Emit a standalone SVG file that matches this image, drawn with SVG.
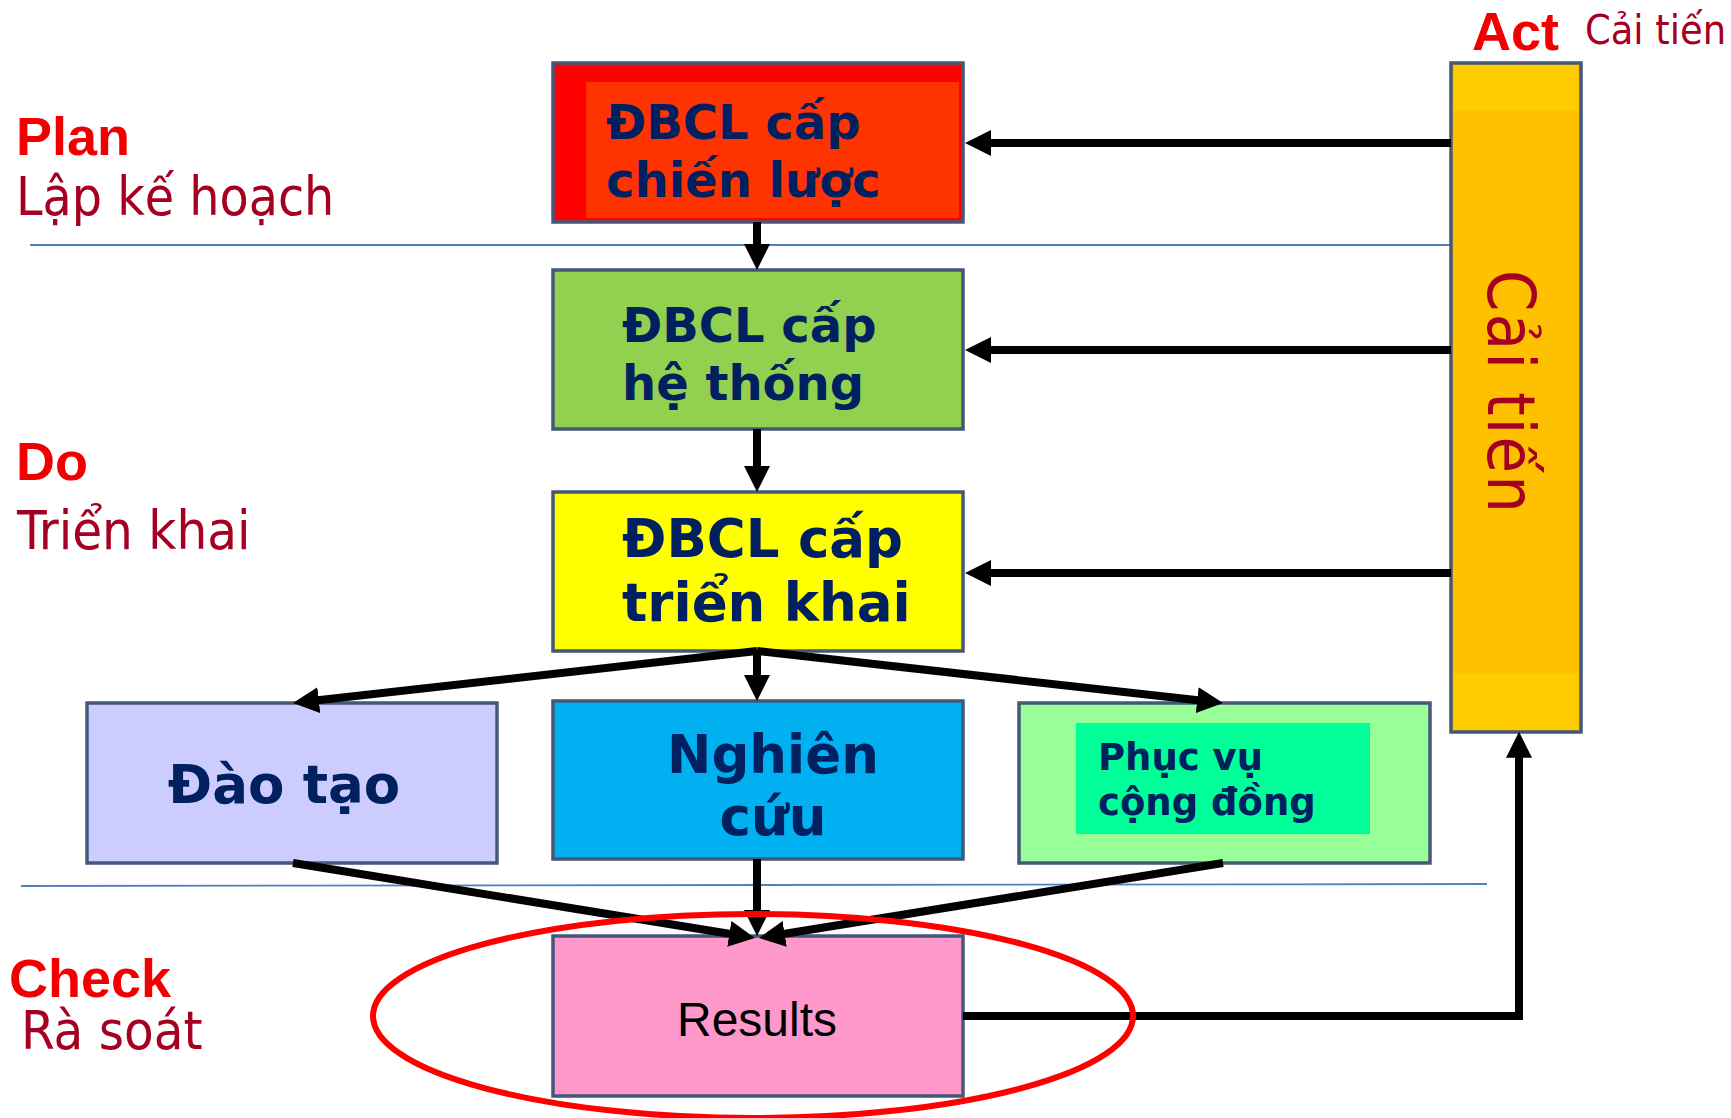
<svg xmlns="http://www.w3.org/2000/svg" width="1731" height="1118" viewBox="0 0 1731 1118">
<defs>
<marker id="ah" viewBox="0 0 10 10" refX="6.5" refY="5" markerUnits="userSpaceOnUse" markerWidth="26" markerHeight="26" orient="auto">
<path d="M0,0 L10,5 L0,10 z" fill="#000"/>
</marker>
<style>
.box{stroke:#44587A;stroke-width:3.5}
.nt{font-family:"DejaVu Sans",Verdana,sans-serif;font-weight:bold;fill:#002060}
.pdca{font-family:"Liberation Sans",Arial,sans-serif;font-weight:bold;fill:#F00000;font-size:54px}
.sub{font-family:"DejaVu Sans",sans-serif;font-stretch:condensed;fill:#A50021}
.con{fill:none;stroke:#000;stroke-width:8;marker-end:url(#ah)}
.sep{stroke:#4F81BD;stroke-width:1.8}
</style>
</defs>
<rect width="1731" height="1118" fill="#fff"/>
<line class="sep" x1="30" y1="245" x2="1451" y2="245"/>
<line class="sep" x1="21" y1="886" x2="1487" y2="884"/>

<text class="pdca" x="16" y="155">Plan</text>
<text class="sub" x="16" y="215" font-size="53">Lập kế hoạch</text>
<text class="pdca" x="16" y="480">Do</text>
<text class="sub" x="17" y="549" font-size="54">Triển khai</text>
<text class="pdca" x="9" y="997">Check</text>
<text class="sub" x="21" y="1049" font-size="54">Rà soát</text>
<text class="pdca" x="1472" y="50">Act</text>
<text class="sub" x="1585" y="44" font-size="41">Cải tiến</text>

<g id="n-chienluoc">
<rect class="box" x="553" y="63" width="410" height="159" fill="#FF0000"/>
<rect x="586" y="82" width="373" height="136" fill="#FF3300"/>
<text class="nt" x="606" y="139" font-size="48">ĐBCL cấp</text>
<text class="nt" x="606" y="197" font-size="48">chiến lược</text>
</g>
<g id="n-hethong">
<rect class="box" x="553" y="270" width="410" height="159" fill="#92D050"/>
<text class="nt" x="622" y="342" font-size="48">ĐBCL cấp</text>
<text class="nt" x="622" y="400" font-size="48">hệ thống</text>
</g>
<g id="n-trienkhai">
<rect class="box" x="553" y="492" width="410" height="159" fill="#FFFF00"/>
<text class="nt" x="622" y="557" font-size="53">ĐBCL cấp</text>
<text class="nt" x="622" y="621" font-size="53">triển khai</text>
</g>
<g id="n-daotao">
<rect class="box" x="87" y="703" width="410" height="160" fill="#CCCCFF"/>
<text class="nt" x="284" y="803" font-size="53" text-anchor="middle">Đào tạo</text>
</g>
<g id="n-nghiencuu">
<rect class="box" x="553" y="701" width="410" height="158" fill="#00B0F0"/>
<text class="nt" x="773" y="773" font-size="53" text-anchor="middle">Nghiên</text>
<text class="nt" x="773" y="835" font-size="53" text-anchor="middle">cứu</text>
</g>
<g id="n-phucvu">
<rect class="box" x="1019" y="703" width="411" height="160" fill="#99FF99"/>
<rect x="1076" y="723" width="294" height="111" fill="#00FF99"/>
<text class="nt" x="1098" y="770" font-size="37">Phục vụ</text>
<text class="nt" x="1098" y="815" font-size="37">cộng đồng</text>
</g>
<g id="n-results">
<rect class="box" x="553" y="936" width="410" height="160" fill="#FF99CC"/>
<text x="757" y="1036" font-family="Liberation Sans,Arial,sans-serif" font-size="48" fill="#000" text-anchor="middle">Results</text>
</g>
<g id="n-caitien">
<rect class="box" x="1451" y="63" width="130" height="669" fill="#FFC000"/>
<rect x="1454" y="65" width="124" height="45" fill="#FFCC00"/>
<rect x="1454" y="673" width="124" height="57" fill="#FFCC00"/>
<text class="sub" transform="translate(1488,270) rotate(90)" font-size="66" font-stretch="normal" textLength="243" lengthAdjust="spacing">Cải tiến</text>
</g>

<g id="connectors">
<line class="con" x1="757" y1="222" x2="757" y2="260.9"/>
<line class="con" x1="757" y1="429" x2="757" y2="482.9"/>
<line class="con" x1="757" y1="651" x2="302" y2="702"/>
<line class="con" x1="757" y1="651" x2="757" y2="691.9"/>
<line class="con" x1="757" y1="651" x2="1214" y2="702"/>
<line class="con" x1="293" y1="863" x2="746" y2="936.5"/>
<line class="con" x1="1223" y1="863" x2="768" y2="936.5"/>
<line class="con" x1="757" y1="859" x2="757" y2="926.9"/>
<path class="con" d="M963,1016 H1519 V740.9"/>
<line class="con" x1="1451" y1="143" x2="974.1" y2="143"/>
<line class="con" x1="1451" y1="350" x2="974.1" y2="350"/>
<line class="con" x1="1451" y1="573" x2="974.1" y2="573"/>
</g>
<ellipse cx="753" cy="1016" rx="380" ry="102" fill="none" stroke="#FF0000" stroke-width="6"/>
</svg>
